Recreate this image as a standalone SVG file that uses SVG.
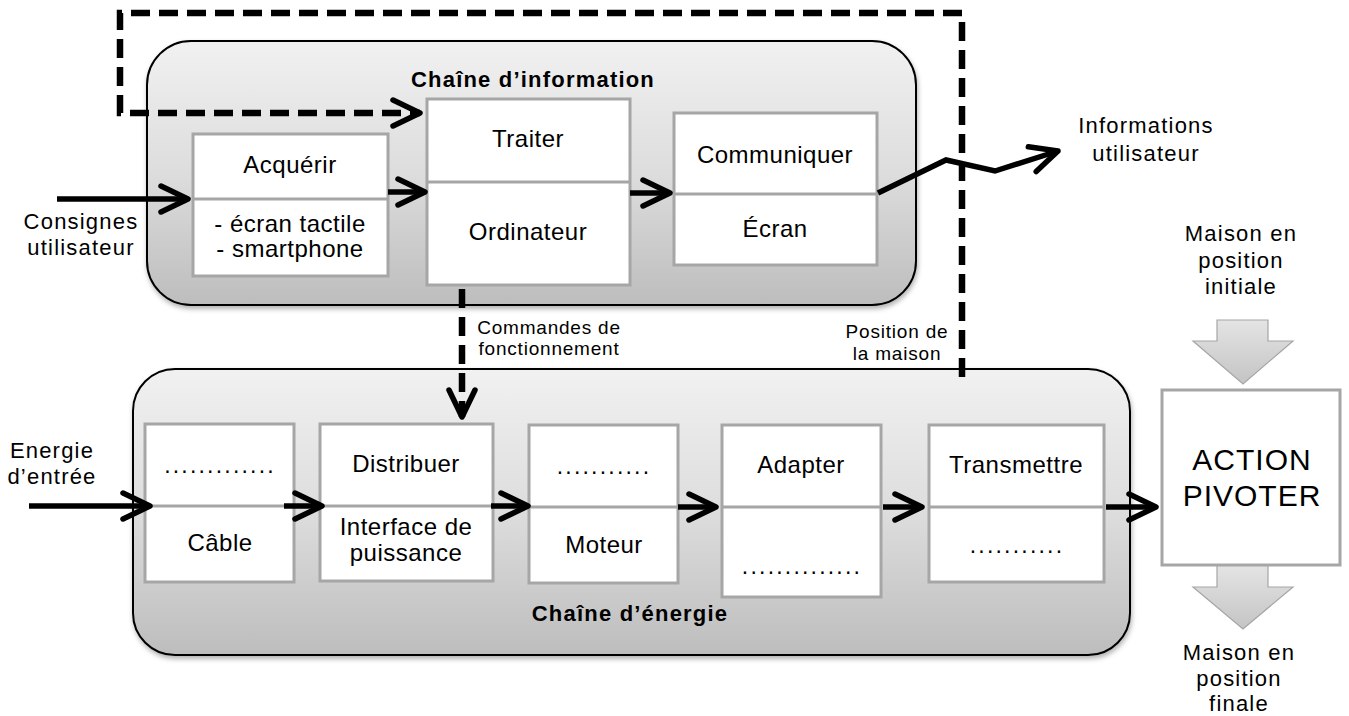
<svg xmlns="http://www.w3.org/2000/svg" width="1349" height="716" viewBox="0 0 1349 716">
<style>
text{font-family:"Liberation Sans",Arial,sans-serif;fill:#000;text-anchor:middle}
.lbl{font-size:24px;letter-spacing:0.5px}
.dots{font-size:23px;letter-spacing:2.2px}
.out{font-size:22px;letter-spacing:1.2px}
.small{font-size:19px;letter-spacing:0.8px}
.title{font-size:22px;font-weight:bold;letter-spacing:1.2px}
.act{font-size:30px;letter-spacing:1px}
.cont{stroke:#000;stroke-width:2;fill:url(#gGray)}
.box{fill:#fff;stroke:#a6a6a6;stroke-width:3}
.div{stroke:#a6a6a6;stroke-width:3}
.blk{fill:url(#gArrow);stroke:#a6a6a6;stroke-width:1.2}
.sol{fill:none;stroke:#000;stroke-width:5.5;marker-end:url(#ah)}
.dash{fill:none;stroke:#000;stroke-width:6.5;stroke-dasharray:19 9;marker-end:url(#ah)}
</style>
<defs>
<linearGradient id="gGray" x1="0" y1="0" x2="0" y2="1">
<stop offset="0" stop-color="#f1f1f1"/>
<stop offset="0.5" stop-color="#dddddd"/>
<stop offset="1" stop-color="#bdbdbd"/>
</linearGradient>
<linearGradient id="gArrow" x1="0" y1="0" x2="0" y2="1">
<stop offset="0" stop-color="#e4e4e4"/>
<stop offset="1" stop-color="#c4c4c4"/>
</linearGradient>
<filter id="sh" x="-5%" y="-5%" width="110%" height="115%">
<feDropShadow dx="1" dy="3" stdDeviation="2.5" flood-color="#000" flood-opacity="0.3"/>
</filter>
<marker id="ah" viewBox="-32 -18 40 36" refX="0" refY="0" markerWidth="40" markerHeight="36" markerUnits="userSpaceOnUse" orient="auto">
<path d="M-27,-13 L0,0 L-27,13" fill="none" stroke="#000" stroke-width="5.5" stroke-linecap="round" stroke-linejoin="round"/>
</marker>
</defs>

<g id="chaine-information">
<rect class="cont" x="147" y="41" width="769" height="264" rx="44" filter="url(#sh)"/>
<text class="title" x="533" y="87">Chaîne d’information</text>
</g>

<g id="chaine-energie">
<rect class="cont" x="133" y="369" width="997" height="286" rx="42" filter="url(#sh)"/>
<text class="title" x="630" y="621">Chaîne d’énergie</text>
</g>

<g id="acquerir">
<rect class="box" x="193" y="134" width="195" height="142"/>
<line class="div" x1="193" y1="199" x2="388" y2="199"/>
<text class="lbl" x="290" y="173">Acquérir</text>
<text class="lbl" x="290" y="232">- écran tactile</text>
<text class="lbl" x="290" y="257">- smartphone</text>
</g>

<g id="traiter">
<rect class="box" x="427" y="99" width="203" height="186"/>
<line class="div" x1="427" y1="182" x2="630" y2="182"/>
<text class="lbl" x="528" y="147">Traiter</text>
<text class="lbl" x="528" y="240">Ordinateur</text>
</g>

<g id="communiquer">
<rect class="box" x="674" y="113" width="203" height="152"/>
<line class="div" x1="674" y1="194" x2="877" y2="194"/>
<text class="lbl" x="775" y="163">Communiquer</text>
<text class="lbl" x="775" y="237">Écran</text>
</g>

<g id="box-cable">
<rect class="box" x="145" y="424" width="149" height="158"/>
<line class="div" x1="145" y1="506" x2="294" y2="506"/>
<text class="dots" x="220" y="473">.............</text>
<text class="lbl" x="220" y="551">Câble</text>
</g>

<g id="distribuer">
<rect class="box" x="320" y="424" width="173" height="157"/>
<line class="div" x1="320" y1="506" x2="493" y2="506"/>
<text class="lbl" x="406" y="472">Distribuer</text>
<text class="lbl" x="406" y="535">Interface de</text>
<text class="lbl" x="406" y="561">puissance</text>
</g>

<g id="moteur">
<rect class="box" x="529" y="425" width="149" height="158"/>
<line class="div" x1="529" y1="507" x2="678" y2="507"/>
<text class="dots" x="604" y="474">...........</text>
<text class="lbl" x="604" y="553">Moteur</text>
</g>

<g id="adapter">
<rect class="box" x="722" y="425" width="159" height="172"/>
<line class="div" x1="722" y1="507" x2="881" y2="507"/>
<text class="lbl" x="801" y="473">Adapter</text>
<text class="dots" x="802" y="574">..............</text>
</g>

<g id="transmettre">
<rect class="box" x="929" y="425" width="175" height="157"/>
<line class="div" x1="929" y1="507" x2="1104" y2="507"/>
<text class="lbl" x="1016" y="473">Transmettre</text>
<text class="dots" x="1017" y="553">...........</text>
</g>

<g id="action-pivoter">
<rect class="box" x="1162" y="390" width="178" height="175"/>
<text class="act" x="1252" y="470">ACTION</text>
<text class="act" x="1252" y="506">PIVOTER</text>
</g>

<g id="maison-initiale">
<path class="blk" d="M1217,320 H1268 V341 H1293 L1243,384 L1193,341 H1217 Z"/>
<text class="out" x="1241" y="241">Maison en</text>
<text class="out" x="1241" y="268">position</text>
<text class="out" x="1241" y="294">initiale</text>
</g>

<g id="maison-finale">
<path class="blk" d="M1217,566 H1268 V587 H1293 L1243,629 L1193,587 H1217 Z"/>
<text class="out" x="1239" y="660">Maison en</text>
<text class="out" x="1239" y="686">position</text>
<text class="out" x="1239" y="711">finale</text>
</g>

<g id="labels">
<text class="out" x="81" y="229">Consignes</text>
<text class="out" x="81" y="255">utilisateur</text>
<text class="out" x="52" y="458">Energie</text>
<text class="out" x="52" y="484">d’entrée</text>
<text class="out" x="1146" y="133">Informations</text>
<text class="out" x="1146" y="161">utilisateur</text>
<text class="small" x="549" y="334">Commandes de</text>
<text class="small" x="549" y="355">fonctionnement</text>
<text class="small" x="897" y="338">Position de</text>
<text class="small" x="897" y="360">la maison</text>
</g>

<g id="connectors">
<line class="sol" x1="57" y1="199" x2="188" y2="199"/>
<line class="sol" x1="388" y1="192" x2="425" y2="192"/>
<line class="sol" x1="630" y1="193" x2="670" y2="193"/>
<polyline class="sol" points="878,193 946,160 995,171 1058,151"/>
<line class="sol" x1="29" y1="506" x2="150" y2="506"/>
<line class="sol" x1="284" y1="506" x2="322" y2="506"/>
<line class="sol" x1="491" y1="506" x2="528" y2="506"/>
<line class="sol" x1="678" y1="507" x2="716" y2="507"/>
<line class="sol" x1="883" y1="507" x2="922" y2="507"/>
<line class="sol" x1="1106" y1="507" x2="1156" y2="507"/>
<path class="dash" d="M962,377 V13 H120 V113 H420"/>
<path class="dash" d="M462,289 V417"/>
</g>
</svg>
